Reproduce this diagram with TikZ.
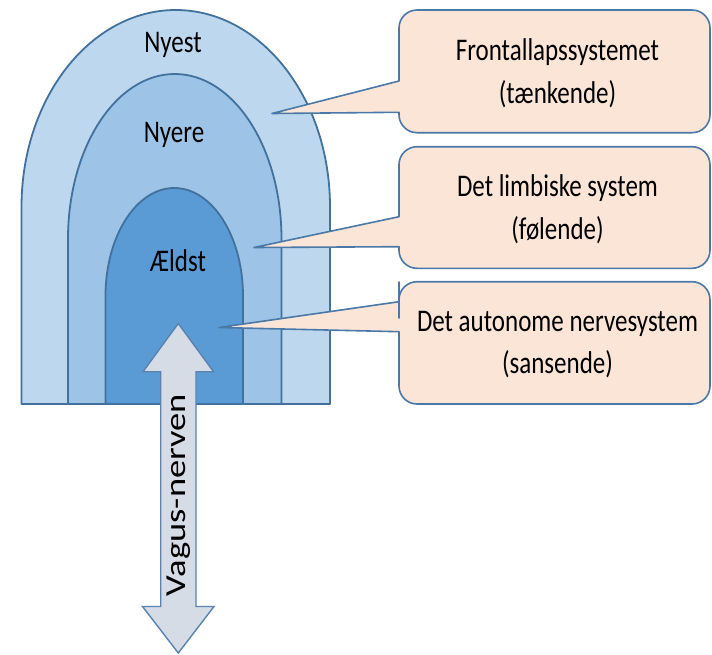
\documentclass[tikz,border=0pt]{standalone}
\usepackage{fontspec}
\setmainfont{Carlito}
\begin{document}
\begin{tikzpicture}[x=1pt,y=-1pt]
\definecolor{outerc}{HTML}{BDD7EE}
\definecolor{midc}{HTML}{9DC3E6}
\definecolor{innerc}{HTML}{5B9BD5}
\definecolor{edgec}{HTML}{41719C}
\definecolor{calloutc}{HTML}{FBE5D6}
\definecolor{calloutedge}{HTML}{4A78A8}
\definecolor{arrowc}{HTML}{D6DCE5}
\definecolor{arrowedge}{HTML}{5A82AE}
\tikzset{
  arch/.style={draw=edgec, line width=1.8pt, line join=round},
  callout/.style={fill=calloutc, draw=calloutedge, line width=1.6pt, line join=round},
  lbl/.style={inner sep=0pt, font=\fontsize{25}{34}\selectfont, align=center, yscale=1.26, transform shape},
}
\useasboundingbox (0,0) rectangle (712,654);
% arches
\draw[arch, fill=outerc] (21.5,404) -- (21.5,207) arc[start angle=180, end angle=0, x radius=154.25, y radius=-197] -- (330,404) -- cycle;
\draw[arch, fill=midc] (68,404) -- (68,239) arc[start angle=180, end angle=0, x radius=106.75, y radius=-165] -- (281.5,404) -- cycle;
\draw[arch, fill=innerc] (105.5,404) -- (105.5,296) arc[start angle=180, end angle=0, x radius=68.75, y radius=-108] -- (243,404) -- cycle;
\node[lbl] (nyest) at (173,45) {Nyest};
\node[lbl] (nyere) at (174,135) {Nyere};
\node[lbl] (aeldst) at (178,261) {Ældst};
% callouts
\draw[callout] (399,114) [rounded corners=18pt] -- (399,132.7) -- (710,132.7) -- (710,10) -- (399,10) -- (399,60) [sharp corners] -- (399,81) -- (272,113.5) -- (399,112.3) -- cycle;
\draw[callout] (399,248) [rounded corners=18pt] -- (399,268.3) -- (710,268.3) -- (710,146.7) -- (399,146.7) -- (399,190) [sharp corners] -- (399,216.7) -- (254,247.5) -- (399,246.7) -- cycle;
\draw[callout] (399,340) [rounded corners=18pt] -- (399,404) -- (710,404) -- (710,281.7) -- (399,281.7) -- (399,300) [sharp corners] -- (399,301.7) -- (219,327.5) -- (399,331.7) -- cycle;
\node[lbl] (front) at (557.5,73.5) {Frontallapssystemet\\(tænkende)};
\node[lbl] (limb) at (557.5,209) {Det limbiske system\\(følende)};
\node[lbl] (auto) at (557.5,344.5) {Det autonome nervesystem\\(sansende)};
% vagus double arrow
\draw[fill=arrowc, draw=arrowedge, line width=1.4pt, line join=miter]
  (178.3,323.5) -- (213.5,371.7) -- (196,371.7) -- (196,606.5) -- (214,606.5) -- (178.3,653) -- (142.5,606.5) -- (160.7,606.5) -- (160.7,371.7) -- (143,371.7) -- cycle;
\node[inner sep=0pt] (vagus) at (179,495) {\rotatebox{90}{\scalebox{1.26}[1]{\fontsize{29}{32}\selectfont Vagus-nerven}}};
\end{tikzpicture}
\end{document}
